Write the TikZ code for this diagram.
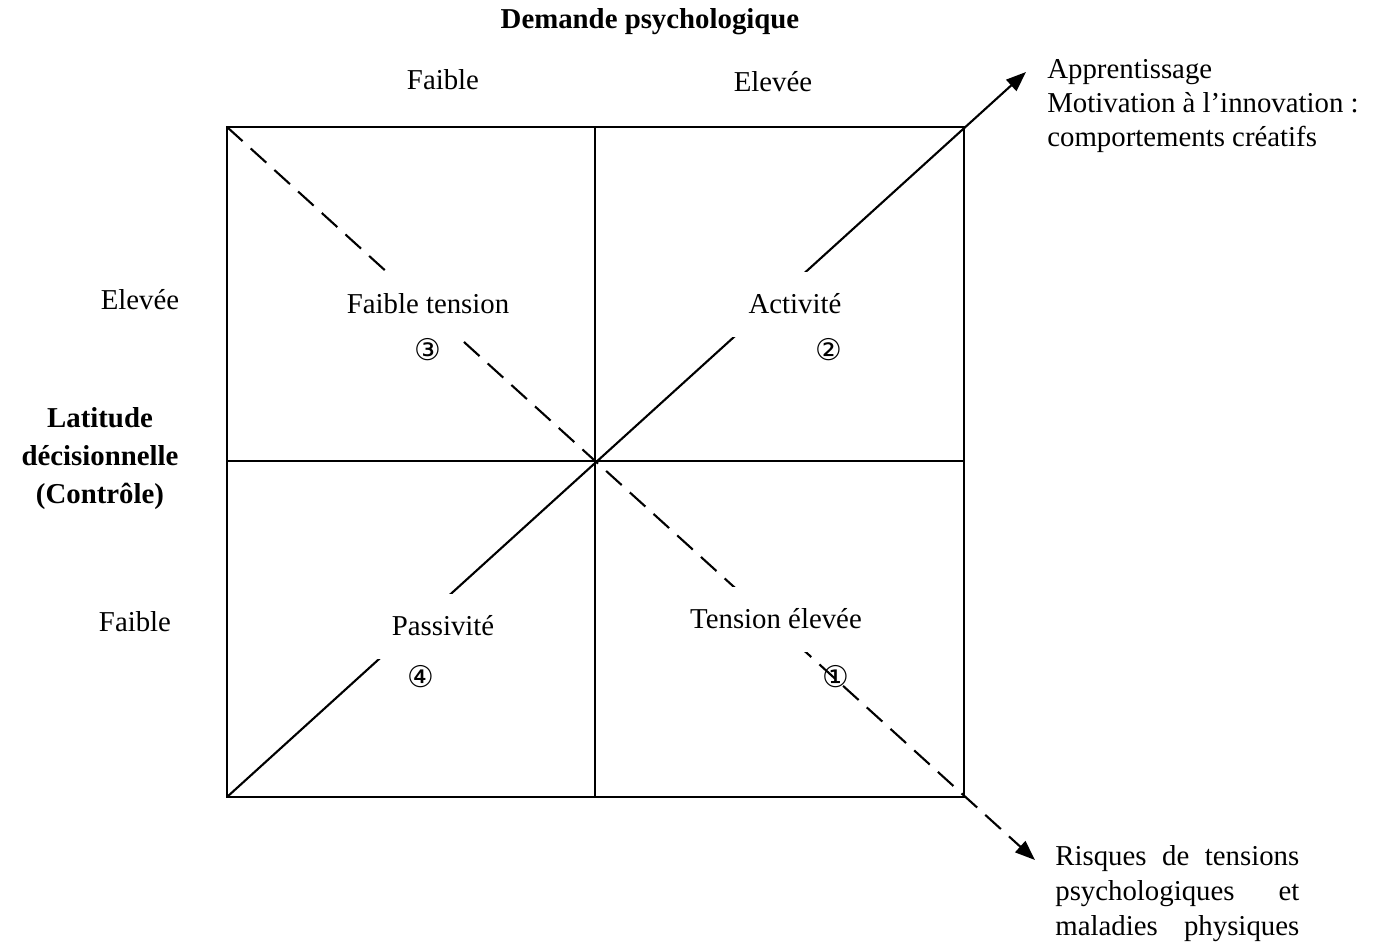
\documentclass[tikz,border=0pt]{standalone}
\usepackage{fontspec}
\setmainfont{Liberation Serif}
\newfontfamily\circfont{DejaVu Sans}
\usetikzlibrary{arrows.meta}
\begin{document}
\begin{tikzpicture}[x=0.02cm,y=-0.02cm,
  every node/.style={font=\fontsize{16.4}{19.7}\selectfont, inner sep=0pt},
  grid/.style={line width=0.9pt},
  diag/.style={line width=1.2pt, -{Triangle[length=0.4cm,width=0.3cm]}},
  dashdiag/.style={diag, dash pattern=on 0.42cm off 0.22cm},
  cell/.style={fill=white, minimum width=4cm, minimum height=1.3cm},
  num/.style={font=\circfont\fontsize{17}{17}\selectfont},
  head/.style={font=\bfseries\fontsize{16.4}{21.6}\selectfont, align=center},
]
\useasboundingbox (0,0) rectangle (1384,951);

% corners of the square and its centre
\coordinate (tl) at (227,127);
\coordinate (tr) at (964,127);
\coordinate (bl) at (227,797);
\coordinate (br) at (964,797);
\coordinate (tm) at (595,127);
\coordinate (bm) at (595,797);
\coordinate (lm) at (227,461);
\coordinate (rm) at (964,461);
\coordinate (upend) at (1026,72);
\coordinate (downend) at (1035,860);

% square and quadrant lines
\draw[grid] (tl) rectangle (br);
\draw[grid] (tm) -- (bm);
\draw[grid] (lm) -- (rm);

% diagonals leaving the square
\draw[diag] (bl) -- (upend);
\draw[dashdiag] (tl) -- (downend);

% axis titles
\node[head] (demande) at (650,22) {Demande psychologique};
\node (hfaible) at (443,80) {Faible};
\node (helevee) at (773,82) {Elevée};
\node (velevee) at (140,300) {Elevée};
\node (vfaible) at (135,622) {Faible};
\node[head] (latitude) at (100,459) {Latitude\\décisionnelle\\(Contrôle)};

% quadrant labels
\node[cell] (q3) at (428,304) {Faible tension};
\node[cell] (q2) at (795,304) {Activité};
\node[cell] (q4) at (443,626) {Passivité};
\node[cell] (q1) at (776,619) {Tension élevée};

\node[num] (n3) at (428,350) {③};
\node[num] (n2) at (829,350) {②};
\node[num] (n4) at (421,677) {④};
\node[num] (n1) at (836,677) {①};

% outcomes
\node[anchor=north west, align=left, font=\fontsize{16.4}{19.3}\selectfont] (outup) at (1047,59)
  {Apprentissage\\Motivation à l’innovation :\\comportements créatifs};
\node[anchor=north west, align=left, font=\fontsize{16.4}{19.9}\selectfont] (outdown) at (1055,845)
  {\makebox[4.88cm][s]{Risques de tensions}\\
   \makebox[4.88cm][s]{psychologiques et}\\
   \makebox[4.88cm][s]{maladies physiques}};
\end{tikzpicture}
\end{document}
